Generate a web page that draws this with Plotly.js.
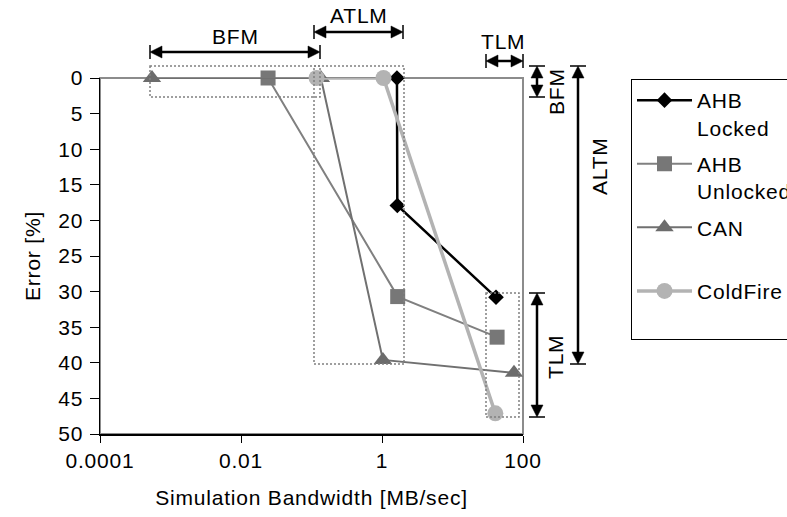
<!DOCTYPE html>
<html><head><meta charset="utf-8">
<script src="https://cdn.plot.ly/plotly-3.0.1.min.js"></script>
<style>
html,body{margin:0;padding:0;background:#fff}
svg text{letter-spacing:0.8px}
</style>
</head><body><div id="chart" style="width:787px;height:517px"></div>
<script>
// ---- data ----
const seriesNames = ['AHB<br>Locked', 'AHB<br>Unlocked', 'CAN<br>&nbsp;', 'ColdFire<br>&nbsp;'];
const ahbLockedX = [1.63, 1.65, 41.4];
const ahbLockedY = [0, 17.9, 30.8];
const ahbUnlockedX = [0.0242, 1.67, 42.9];
const ahbUnlockedY = [0, 30.7, 36.4];
const canX = [0.000546, 0.136, 1.03, 74.5];
const canY = [0, 0, 39.6, 41.4];
const coldFireX = [0.118, 1.05, 40.5];
const coldFireY = [0, 0, 47.1];
const xTickVals = [0.0001, 0.01, 1, 100];
const xTickText = ['0.0001', '0.01', '1', '100'];
const yTickVals = [0, 5, 10, 15, 20, 25, 30, 35, 40, 45, 50];
const xTitle = 'Simulation Bandwidth [MB/sec]';
const yTitle = 'Error [%]';
const methodLabels = ['BFM', 'ATLM', 'TLM', 'BFM', 'ALTM', 'TLM'];

const FONT = 'Liberation Sans, Arial, sans-serif';
const FS = 21;

// ---- geometry helpers (pixel -> paper) ----
const L = 100, R = 523, T = 78, B = 434;
const W = R - L, H = B - T;
const X = p => (p - L) / W;
const Y = p => (B - p) / H;

const shapes = [];
function seg(x0, y0, x1, y1, color, width, dash) {
  shapes.push({type: 'line', xref: 'paper', yref: 'paper', x0: X(x0), y0: Y(y0), x1: X(x1), y1: Y(y1),
    line: {color: color, width: width, dash: dash || 'solid'}});
}
function poly(pts, color) {
  const d = pts.map((p, i) => (i ? 'L' : 'M') + X(p[0]) + ',' + Y(p[1])).join(' ') + ' Z';
  shapes.push({type: 'path', xref: 'paper', yref: 'paper', path: d, fillcolor: color, line: {color: color, width: 0.5}});
}
function box(x0, y0, x1, y1) {
  shapes.push({type: 'rect', xref: 'paper', yref: 'paper', x0: X(x0), y0: Y(y0), x1: X(x1), y1: Y(y1),
    line: {color: '#808080', width: 1.5, dash: '2px,2px'}, fillcolor: 'rgba(0,0,0,0)'});
}
const HL = 12, HW = 6, BAR = 7, LW = 2.5;
function hArrow(x0, x1, y) {
  seg(x0 + 4, y, x1 - 4, y, '#000', LW);
  poly([[x0, y], [x0 + HL, y - HW], [x0 + HL, y + HW]], '#000');
  poly([[x1, y], [x1 - HL, y - HW], [x1 - HL, y + HW]], '#000');
  seg(x0, y - BAR, x0, y + BAR, '#000', 1.5);
  seg(x1, y - BAR, x1, y + BAR, '#000', 1.5);
}
function vArrow(x, y0, y1) {
  seg(x, y0 + 4, x, y1 - 4, '#000', LW);
  poly([[x, y0], [x - HW, y0 + HL], [x + HW, y0 + HL]], '#000');
  poly([[x, y1], [x - HW, y1 - HL], [x + HW, y1 - HL]], '#000');
  seg(x - BAR - 1, y0, x + BAR + 1, y0, '#000', 1.5);
  seg(x - BAR - 1, y1, x + BAR + 1, y1, '#000', 1.5);
}

// plot-area border (gray, top & right)
shapes.push({type: 'rect', xref: 'paper', yref: 'paper', x0: 0, y0: 0, x1: 1, y1: 1,
  line: {color: '#8c8c8c', width: 2}, fillcolor: 'rgba(0,0,0,0)', layer: 'below'});

// dotted region boxes
box(150, 66, 320, 97);
box(314, 66, 404, 364);
box(486, 293, 519, 417);

// arrows
hArrow(150, 320, 52);
hArrow(314, 403, 32);
hArrow(486, 523, 61);
vArrow(537, 66, 97);
vArrow(578, 66, 364);
vArrow(537, 293, 417);

function label(text, x, y, angle) {
  return {text: text, xref: 'paper', yref: 'paper', x: X(x), y: Y(y), showarrow: false,
    xanchor: 'center', yanchor: 'middle', textangle: angle || 0,
    font: {family: FONT, size: FS, color: '#000'}};
}
const annotations = [
  label(methodLabels[0], 235, 36),
  label(methodLabels[1], 359, 15),
  label(methodLabels[2], 503, 42),
  label(methodLabels[3], 556, 92, -90),
  label(methodLabels[4], 599, 166, -90),
  label(methodLabels[5], 555, 357, -90)
];

const traces = [
  {x: ahbLockedX, y: ahbLockedY, name: seriesNames[0], legendgroup: 'g1', mode: 'lines+markers', cliponaxis: false,
   line: {color: '#000000', width: 2.5}, marker: {symbol: 'diamond', size: 12, color: '#000000'}},
  {x: ahbUnlockedX, y: ahbUnlockedY, name: seriesNames[1], legendgroup: 'g2', mode: 'lines+markers', cliponaxis: false,
   line: {color: '#808080', width: 2}, marker: {symbol: 'square', size: 15, color: '#777777'}},
  {x: canX, y: canY, name: seriesNames[2], legendgroup: 'g3', mode: 'lines+markers', cliponaxis: false,
   line: {color: '#707070', width: 2}, marker: {symbol: 'triangle-up', size: 16, color: '#6c6c6c'}},
  {x: coldFireX, y: coldFireY, name: seriesNames[3], legendgroup: 'g4', mode: 'lines+markers', cliponaxis: false,
   line: {color: '#b3b3b3', width: 3.5}, marker: {symbol: 'circle', size: 16, color: '#b3b3b3'}}
];

const layout = {
  width: 787, height: 517,
  margin: {l: L, r: 787 - R, t: T, b: 517 - B, pad: 0, autoexpand: false},
  paper_bgcolor: '#ffffff', plot_bgcolor: '#ffffff',
  font: {family: FONT, size: FS, color: '#000'},
  showlegend: true,
  legend: {x: X(631), y: Y(79), xanchor: 'left', yanchor: 'top', bgcolor: '#ffffff',
    bordercolor: '#000000', borderwidth: 1, valign: 'top', tracegroupgap: 6, itemwidth: 55,
    font: {family: FONT, size: FS, color: '#000'}},
  xaxis: {type: 'log', range: [-4, 2], tickvals: xTickVals, ticktext: xTickText,
    ticks: 'outside', ticklen: 7, tickcolor: '#000', tickwidth: 1, showline: true, linecolor: '#000', linewidth: 1.5,
    showgrid: false, zeroline: false, tickfont: {family: FONT, size: FS, color: '#000'},
    title: {text: xTitle, font: {family: FONT, size: FS, color: '#000'}, standoff: 19}},
  yaxis: {range: [50, 0], tickvals: yTickVals, ticks: 'outside', ticklen: 9, tickcolor: '#000', tickwidth: 1,
    showline: true, linecolor: '#000', linewidth: 1.5, showgrid: false, zeroline: false,
    ticklabelstandoff: 2,
    tickfont: {family: FONT, size: FS, color: '#000'},
    title: {text: yTitle, font: {family: FONT, size: FS, color: '#000'}, standoff: 12}},
  shapes: shapes,
  annotations: annotations
};

Plotly.newPlot('chart', traces, layout, {staticPlot: true, displayModeBar: false});
</script>
</body></html>
